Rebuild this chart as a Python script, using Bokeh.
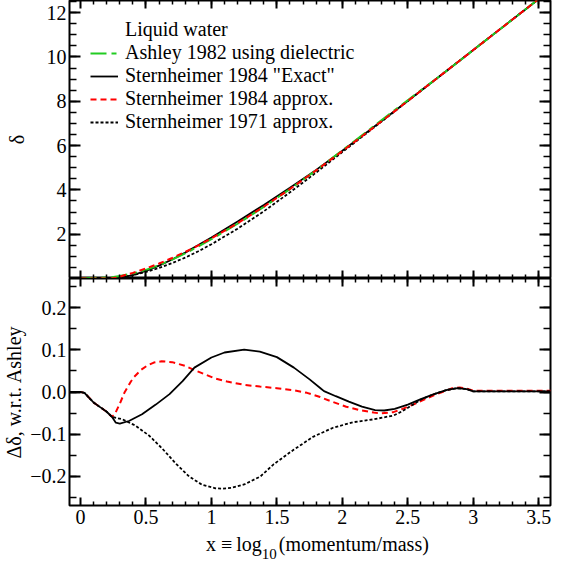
import numpy as np
from bokeh.plotting import figure
from bokeh.layouts import column
from bokeh.models import (Range1d, LinearAxis, FixedTicker, CustomJSTickFormatter,
                          Legend, LegendItem, Div)
from bokeh.embed import file_html
from bokeh.resources import INLINE

FONT = "Liberation Serif"

# ---------------- data: top panel (delta vs x) ----------------
x_top = [0.0, 0.1, 0.2, 0.24, 0.3, 0.4, 0.5, 0.6, 0.7, 0.8, 0.9, 1.0, 1.2, 1.4,
         1.6, 1.8, 2.0, 2.2, 2.4, 2.6, 2.8, 3.0, 3.2, 3.4, 3.6]
delta_ashley = [0.0, 0.025, 0.047, 0.059, 0.115, 0.223, 0.392, 0.604, 0.855, 1.136,
                1.445, 1.773, 2.472, 3.228, 4.034, 4.887, 5.783, 6.693, 7.603, 8.493,
                9.388, 10.311, 11.233, 12.154, 13.075]
delta_s84_exact = [0.0, 0.0, 0.0, 0.0, 0.040, 0.157, 0.345, 0.579, 0.856, 1.169,
                   1.509, 1.855, 2.571, 3.322, 4.098, 4.904, 5.766, 6.655, 7.563, 8.476,
                   9.393, 10.314, 11.235, 12.156, 13.077]
delta_s84_approx = [0.0, 0.0, 0.0, 0.0, 0.087, 0.255, 0.453, 0.676, 0.926, 1.198,
                    1.493, 1.808, 2.492, 3.240, 4.039, 4.879, 5.751, 6.645, 7.555, 8.472,
                    9.393, 10.314, 11.235, 12.156, 13.077]
delta_s71 = [0.0, 0.0, 0.0, 0.0, 0.051, 0.146, 0.294, 0.476, 0.695, 0.944,
             1.229, 1.546, 2.248, 3.033, 3.890, 4.784, 5.705, 6.626, 7.549, 8.474,
             9.393, 10.314, 11.235, 12.156, 13.077]

# ---------------- data: bottom panel (difference w.r.t. Ashley) ----------------
x_exact = [-0.1, 0.0, 0.03, 0.07, 0.1, 0.15, 0.2, 0.24, 0.27, 0.3, 0.37, 0.47, 0.575,
           0.68, 0.78, 0.87, 1.0, 1.1, 1.25, 1.37, 1.5, 1.63, 1.75, 1.84, 1.86, 1.95,
           2.05, 2.15, 2.25, 2.32, 2.4, 2.5, 2.6, 2.7, 2.8, 2.88, 2.95, 3.0, 3.6]
diff_exact = [0.0, 0.0, -0.002, -0.015, -0.025, -0.036, -0.047, -0.059, -0.073, -0.075,
              -0.069, -0.053, -0.030, -0.005, 0.026, 0.058, 0.082, 0.094, 0.101, 0.096,
              0.083, 0.058, 0.030, 0.007, 0.002, -0.010, -0.023, -0.035, -0.043, -0.044,
              -0.040, -0.030, -0.017, -0.005, 0.005, 0.009, 0.007, 0.0015, 0.0015]

x_approx = [-0.1, 0.0, 0.03, 0.07, 0.1, 0.15, 0.2, 0.24, 0.26, 0.3, 0.335, 0.385, 0.41,
            0.46, 0.51, 0.56, 0.62, 0.7, 0.8, 0.87, 0.95, 1.02, 1.12, 1.25, 1.37, 1.5,
            1.63, 1.73, 1.83, 1.93, 2.03, 2.13, 2.24, 2.29, 2.39, 2.46, 2.54, 2.69, 2.84,
            2.895, 2.95, 3.0, 3.6]
diff_approx = [0.0, 0.0, -0.002, -0.015, -0.025, -0.036, -0.047, -0.059, -0.054, -0.028,
               -0.002, 0.025, 0.036, 0.052, 0.063, 0.070, 0.073, 0.071, 0.062, 0.052,
               0.042, 0.033, 0.025, 0.017, 0.013, 0.009, 0.004, -0.002, -0.012, -0.024,
               -0.035, -0.043, -0.049, -0.051, -0.048, -0.040, -0.030, -0.009, 0.009,
               0.011, 0.008, 0.003, 0.003]

x_s71 = [-0.1, 0.0, 0.03, 0.07, 0.1, 0.15, 0.2, 0.24, 0.32, 0.42, 0.525, 0.626, 0.727,
         0.83, 0.93, 1.03, 1.08, 1.15, 1.25, 1.374, 1.475, 1.55, 1.63, 1.78, 1.93, 2.08,
         2.24, 2.39, 2.45, 2.54, 2.6, 2.7, 2.8, 2.88, 2.95, 3.0, 3.6]
diff_s71 = [0.0, 0.0, -0.002, -0.015, -0.025, -0.036, -0.047, -0.059, -0.065, -0.080,
            -0.104, -0.135, -0.170, -0.201, -0.221, -0.229, -0.230, -0.228, -0.220, -0.201,
            -0.172, -0.155, -0.137, -0.106, -0.085, -0.072, -0.065, -0.056, -0.047, -0.030,
            -0.018, -0.005, 0.005, 0.009, 0.007, 0.0015, 0.0015]

legend_title = "Liquid water"
names = ["Ashley 1982 using dielectric", 'Sternheimer 1984 "Exact"',
         "Sternheimer 1984 approx.", "Sternheimer 1971 approx."]
x_title_var = "x"
x_title_rel = "≡"
x_title_fn = "log"
x_title_sub = "10"
x_title_tail = "(momentum/mass)"

# ---------------- axis ticks ----------------
x_major = [0, 0.5, 1, 1.5, 2, 2.5, 3, 3.5]
x_minor = [round(v, 2) for v in np.arange(0.1, 3.55, 0.1)]
top_major = [2, 4, 6, 8, 10, 12]
top_minor = [round(v, 2) for v in np.arange(0.5, 12.6, 0.5)]
bot_major = [-0.2, -0.1, 0.0, 0.1, 0.2]
bot_minor = [round(v, 3) for v in np.arange(-0.25, 0.26, 0.05)]

GREEN = "#22cc22"
RED = "#ff0000"

xr = Range1d(-0.084, 3.59)


def style_axis(ax, major, minor, tin, tmin, code, standoff=3):
    ax.ticker = FixedTicker(ticks=major, minor_ticks=minor)
    ax.formatter = CustomJSTickFormatter(code=code)
    ax.axis_line_color = None
    ax.major_tick_in = tin
    ax.major_tick_out = 0
    ax.minor_tick_in = tmin
    ax.minor_tick_out = 0
    ax.major_tick_line_width = 2
    ax.minor_tick_line_width = 1.5
    ax.major_tick_line_color = "black"
    ax.minor_tick_line_color = "black"
    ax.major_label_text_font = FONT
    ax.major_label_text_font_size = "20px"
    ax.major_label_text_color = "black"
    ax.major_label_standoff = standoff
    ax.axis_label_text_font = FONT
    ax.axis_label_text_font_size = "20px"
    ax.axis_label_text_font_style = "normal"
    ax.axis_label_text_color = "black"


HIDE = "return ''"

# ---------------- top figure ----------------
top = figure(width=555, height=278, x_range=xr, y_range=Range1d(0, 12.55),
             output_backend="svg", toolbar_location=None,
             min_border_left=67, min_border_right=5, min_border_top=0, min_border_bottom=0)
top.grid.visible = False
top.outline_line_color = "black"
top.outline_line_width = 2
top.background_fill_color = "white"
top.border_fill_color = "white"

style_axis(top.xaxis[0], x_major, x_minor, 8, 4, HIDE, 0)
style_axis(top.yaxis[0], top_major, top_minor, 11, 7, "return tick.toFixed(0)", 3)
top.yaxis[0].axis_label = "δ"
top.yaxis[0].axis_label_standoff = 16
ax_t = LinearAxis()
style_axis(ax_t, x_major, x_minor, 8, 4, HIDE, 0)
top.add_layout(ax_t, "above")
ax_r = LinearAxis()
style_axis(ax_r, top_major, top_minor, 11, 7, HIDE, 0)
top.add_layout(ax_r, "right")

r_title = top.line(x=[0.0], y=[0.0], line_alpha=0)
r_exact = top.line(x_top, delta_s84_exact, line_color="black", line_width=1.8)
r_s71 = top.line(x_top, delta_s71, line_color="black", line_width=1.8, line_dash="3 2")
r_ash = top.line(x_top, delta_ashley, line_color=GREEN, line_width=2, line_dash="16 5 5 5")
r_app = top.line(x_top, delta_s84_approx, line_color=RED, line_width=2, line_dash="6 4")

legend = Legend(items=[
    LegendItem(label=legend_title, renderers=[r_title]),
    LegendItem(label=names[0], renderers=[r_ash]),
    LegendItem(label=names[1], renderers=[r_exact]),
    LegendItem(label=names[2], renderers=[r_app]),
    LegendItem(label=names[3], renderers=[r_s71]),
], location=(11, 135))
legend.label_text_font = FONT
legend.label_text_font_size = "20px"
legend.label_text_color = "black"
legend.glyph_width = 28
legend.glyph_height = 22
legend.label_height = 22
legend.label_standoff = 7
legend.spacing = 0
legend.padding = 10
legend.margin = 0
legend.border_line_alpha = 0
legend.background_fill_alpha = 0
top.add_layout(legend, "center")

# ---------------- bottom figure ----------------
bot = figure(width=555, height=254, x_range=xr, y_range=Range1d(-0.27, 0.27),
             output_backend="svg", toolbar_location=None,
             min_border_left=67, min_border_right=5, min_border_top=0, min_border_bottom=27)
bot.grid.visible = False
bot.outline_line_color = "black"
bot.outline_line_width = 2
bot.background_fill_color = "white"
bot.border_fill_color = "white"

style_axis(bot.xaxis[0], x_major, x_minor, 8, 4, "return String(Math.round(tick*10)/10)", 4)
style_axis(bot.yaxis[0], bot_major, bot_minor, 11, 7,
           "return tick.toFixed(1).replace('-', '\u2212')", 3)
bot.yaxis[0].axis_label = "Δδ, w.r.t. Ashley"
bot.yaxis[0].axis_label_standoff = 2
ax_t2 = LinearAxis()
style_axis(ax_t2, x_major, x_minor, 8, 4, HIDE, 0)
bot.add_layout(ax_t2, "above")
ax_r2 = LinearAxis()
style_axis(ax_r2, bot_major, bot_minor, 11, 7, HIDE, 0)
bot.add_layout(ax_r2, "right")

bot.line(x_approx, diff_approx, line_color=RED, line_width=2, line_dash="6 4")
bot.line(x_s71, diff_s71, line_color="black", line_width=1.8, line_dash="3 2")
bot.line(x_exact, diff_exact, line_color="black", line_width=1.8)

# x-axis title (with a real subscript) as an HTML text block under the lower panel
title_html = (
    '<span style="font-family:\'Liberation Serif\',serif;font-size:20px;line-height:14px;'
    'white-space:nowrap;color:black;display:inline-block;margin-left:201px;">'
    + x_title_var
    + '<span style="margin:0 4px 0 5px;">' + x_title_rel + '</span>'
    + x_title_fn
    + '<sub style="font-size:15px;line-height:0;vertical-align:-8px;margin-right:2px;">'
    + x_title_sub + '</sub>'
    + x_title_tail + '</span>'
)
xtitle = Div(text=title_html, width=555, height=14, styles={"overflow": "visible"})

layout = column(top, bot, xtitle, spacing=0)
open("out.html", "w").write(file_html(layout, INLINE))
